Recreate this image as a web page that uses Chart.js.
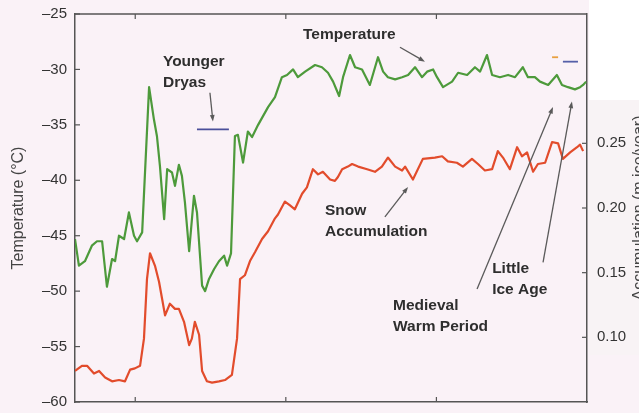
<!DOCTYPE html>
<html>
<head>
<meta charset="utf-8">
<script src="https://cdn.jsdelivr.net/npm/chart.js@4.4.1/dist/chart.umd.min.js"></script>
<style>
  html, body { margin: 0; padding: 0; background: #faf2f7; }
  canvas { display: block; }
</style>
</head>
<body>
<canvas id="myChart" width="639" height="413"></canvas>
<script>
// ages are thousands of years before present
var tempAge = [17.0, 16.87, 16.67, 16.44, 16.27, 16.10, 15.94, 15.77, 15.67, 15.54, 15.37, 15.21, 15.04, 14.94, 14.77,
  14.54, 14.38, 14.28, 14.18, 14.04, 13.94, 13.78, 13.68, 13.55, 13.45, 13.35, 13.21, 13.05, 12.95, 12.78, 12.68, 12.55,
  12.38, 12.22, 12.05, 11.95, 11.82, 11.69, 11.59, 11.42, 11.26, 11.12, 10.92, 10.59, 10.36, 10.13, 9.96, 9.76, 9.60,
  9.36, 9.03, 8.80, 8.60, 8.43, 8.23, 8.10, 7.87, 7.70, 7.47, 7.21, 6.94, 6.77, 6.61, 6.37, 6.14, 5.94, 5.71, 5.48, 5.31,
  5.11, 4.98, 4.78, 4.48, 4.28, 3.98, 3.72, 3.55, 3.32, 3.15, 2.89, 2.62, 2.39, 2.13, 1.96, 1.73, 1.56, 1.29, 1.00, 0.83,
  0.63, 0.40, 0.23, 0.13, 0.03];
var tempValues = [-45.3, -47.7, -47.3, -45.9, -45.5, -45.5, -49.6, -47.1, -47.3, -45.0, -45.3, -42.9, -45.0, -45.5, -44.7,
  -31.6, -34.5, -36.0, -38.7, -43.5, -39.0, -39.3, -40.5, -38.6, -39.6, -42.0, -46.4, -41.4, -42.9, -49.5, -50.0, -48.9,
  -48.0, -47.3, -46.8, -47.7, -46.6, -36.0, -35.9, -38.4, -35.6, -36.1, -35.0, -33.4, -32.5, -30.7, -30.5, -30.0, -30.7,
  -30.2, -29.6, -29.8, -30.3, -31.1, -32.4, -30.7, -28.7, -29.8, -30.0, -31.4, -28.9, -30.2, -30.7, -30.9, -30.7, -30.5,
  -29.8, -30.7, -30.2, -30.0, -30.7, -31.6, -31.1, -30.3, -30.5, -29.8, -30.2, -28.7, -30.5, -30.7, -30.5, -30.7, -29.8,
  -30.7, -30.7, -31.1, -31.4, -30.5, -31.4, -31.6, -31.8, -31.6, -31.4, -31.1];

var accumAge = [17.0, 16.77, 16.60, 16.37, 16.20, 16.00, 15.77, 15.54, 15.34, 15.17, 15.01, 14.84, 14.71, 14.61, 14.51,
  14.34, 14.21, 14.11, 14.01, 13.85, 13.68, 13.55, 13.38, 13.21, 13.12, 13.02, 12.88, 12.78, 12.62, 12.45, 12.22, 12.02,
  11.79, 11.62, 11.52, 11.36, 11.19, 11.02, 10.79, 10.59, 10.36, 10.26, 10.03, 9.86, 9.70, 9.46, 9.30, 9.10, 8.93, 8.77,
  8.53, 8.37, 8.27, 8.13, 7.94, 7.80, 7.60, 7.30, 7.04, 6.81, 6.61, 6.37, 6.14, 6.04, 5.78, 5.45, 5.05, 4.81, 4.62, 4.32,
  4.12, 3.82, 3.62, 3.39, 3.15, 2.96, 2.79, 2.56, 2.32, 2.16, 1.99, 1.79, 1.63, 1.39, 1.16, 0.96, 0.80, 0.56, 0.33, 0.23,
  0.13];
var accumValues = [0.074, 0.078, 0.078, 0.072, 0.074, 0.069, 0.066, 0.067, 0.066, 0.075, 0.076, 0.078, 0.099, 0.145, 0.165,
  0.155, 0.143, 0.130, 0.117, 0.126, 0.122, 0.122, 0.112, 0.094, 0.099, 0.112, 0.102, 0.074, 0.066, 0.065, 0.066, 0.067,
  0.071, 0.099, 0.145, 0.148, 0.159, 0.166, 0.176, 0.182, 0.192, 0.195, 0.205, 0.202, 0.199, 0.211, 0.216, 0.230, 0.226,
  0.228, 0.222, 0.221, 0.224, 0.230, 0.232, 0.234, 0.232, 0.230, 0.228, 0.232, 0.239, 0.232, 0.229, 0.232, 0.222, 0.238,
  0.239, 0.240, 0.236, 0.235, 0.232, 0.238, 0.234, 0.229, 0.230, 0.244, 0.239, 0.230, 0.247, 0.240, 0.243, 0.228, 0.234,
  0.235, 0.251, 0.250, 0.238, 0.243, 0.247, 0.249, 0.244];

// small bars: Younger Dryas level and the two marks at the top right
var dryasAge = [12.95, 11.89];
var dryasTemp = [-35.4, -35.4];
var orangeMarkAge = [1.16, 0.96];
var orangeMarkTemp = [-28.9, -28.9];
var blueMarkAge = [0.80, 0.30];
var blueMarkTemp = [-29.3, -29.3];

var ageTicks = [15, 10, 5];
var accumTicks = [0.10, 0.15, 0.20, 0.25];

// annotations (age, temperature of first text line)
var noteLines = [['Younger', 'Dryas'], ['Temperature'], ['Snow', 'Accumulation'], ['Medieval', 'Warm Period'], ['Little', 'Ice Age']];
var noteAge = [14.08, 9.43, 8.70, 6.44, 3.15];
var noteTemp = [-29.7, -27.3, -43.1, -51.7, -48.4];
var arrowFromAge = [12.52, 6.21, 6.71, 3.65, 1.46];
var arrowFromTemp = [-32.1, -28.0, -43.3, -49.8, -47.4];
var arrowToAge = [12.42, 5.38, 5.94, 1.13, 0.50];
var arrowToTemp = [-34.7, -29.3, -40.6, -33.4, -32.9];

function pts(xs, ys) {
  return xs.map(function (x, i) { return { x: x, y: ys[i] }; });
}

function arrow(ctx, x1, y1, x2, y2) {
  var ang = Math.atan2(y2 - y1, x2 - x1);
  ctx.beginPath();
  ctx.moveTo(x1, y1);
  ctx.lineTo(x2 - 4 * Math.cos(ang), y2 - 4 * Math.sin(ang));
  ctx.stroke();
  ctx.beginPath();
  ctx.moveTo(x2, y2);
  ctx.lineTo(x2 - 7 * Math.cos(ang - 0.35), y2 - 7 * Math.sin(ang - 0.35));
  ctx.lineTo(x2 - 7 * Math.cos(ang + 0.35), y2 - 7 * Math.sin(ang + 0.35));
  ctx.closePath();
  ctx.fill();
}

var figurePlugin = {
  id: 'figure',
  beforeDraw: function (chart) {
    var ctx = chart.ctx, a = chart.chartArea;
    ctx.save();
    ctx.fillStyle = '#faf2f7';
    ctx.fillRect(0, 0, chart.width, chart.height);
    ctx.fillStyle = '#ffffff';
    ctx.fillRect(a.right + 2, 0, chart.width - a.right, 100);
    ctx.fillStyle = '#f8f3f5';
    ctx.fillRect(a.right + 2, 100, chart.width - a.right, 255);
    ctx.restore();
  },
  afterDraw: function (chart) {
    var ctx = chart.ctx, a = chart.chartArea;
    var sx = chart.scales.x, sy = chart.scales.y, sa = chart.scales.y1;
    ctx.save();
    ctx.strokeStyle = '#555';
    ctx.lineWidth = 1.5;
    ctx.beginPath();
    ctx.moveTo(a.left, a.top);
    ctx.lineTo(a.right, a.top);
    ctx.stroke();

    ctx.lineWidth = 1.2;
    ageTicks.forEach(function (v) {
      var px = sx.getPixelForValue(v);
      ctx.beginPath();
      ctx.moveTo(px, a.top); ctx.lineTo(px, a.top + 5);
      ctx.moveTo(px, a.bottom); ctx.lineTo(px, a.bottom - 5);
      ctx.stroke();
    });
    sy.ticks.forEach(function (t) {
      var py = sy.getPixelForValue(t.value);
      ctx.beginPath();
      ctx.moveTo(a.left, py); ctx.lineTo(a.left + 5, py);
      ctx.stroke();
    });
    accumTicks.forEach(function (v) {
      var py = sa.getPixelForValue(v);
      ctx.beginPath();
      ctx.moveTo(a.right, py); ctx.lineTo(a.right - 5, py);
      ctx.stroke();
    });

    // right axis title, reading bottom to top
    ctx.fillStyle = '#444';
    ctx.font = '16px "Liberation Sans", Arial, sans-serif';
    ctx.textAlign = 'center';
    ctx.textBaseline = 'alphabetic';
    ctx.translate(644, (a.top + a.bottom) / 2);
    ctx.rotate(-Math.PI / 2);
    ctx.fillText('Accumulation (m ice/year)', 0, 0);
    ctx.setTransform(1, 0, 0, 1, 0, 0);

    // annotations
    ctx.fillStyle = '#2e2e2e';
    ctx.font = 'bold 15.5px "Liberation Sans", Arial, sans-serif';
    ctx.textAlign = 'left';
    noteLines.forEach(function (lines, i) {
      var px = sx.getPixelForValue(noteAge[i]);
      var py = sy.getPixelForValue(noteTemp[i]);
      lines.forEach(function (s, j) { ctx.fillText(s, px, py + j * 21); });
    });
    ctx.strokeStyle = '#5a5a5a';
    ctx.fillStyle = '#5a5a5a';
    ctx.lineWidth = 1.3;
    arrowFromAge.forEach(function (v, i) {
      arrow(ctx, sx.getPixelForValue(v), sy.getPixelForValue(arrowFromTemp[i]),
        sx.getPixelForValue(arrowToAge[i]), sy.getPixelForValue(arrowToTemp[i]));
    });
    ctx.restore();
  }
};

var tickFont = { family: '"Liberation Sans", Arial, sans-serif', size: 15 };

new Chart('myChart', {
  type: 'line',
  data: {
    datasets: [
      {
        label: 'Temperature',
        data: pts(tempAge, tempValues),
        borderColor: '#4d9a3b',
        borderWidth: 2.2,
        yAxisID: 'y'
      },
      {
        label: 'Snow Accumulation',
        data: pts(accumAge, accumValues),
        borderColor: '#e24c2c',
        borderWidth: 2.2,
        yAxisID: 'y1'
      },
      {
        label: 'Younger Dryas',
        data: pts(dryasAge, dryasTemp),
        borderColor: '#4a4f9a',
        borderWidth: 1.8,
        yAxisID: 'y'
      },
      {
        label: 'mark1',
        data: pts(orangeMarkAge, orangeMarkTemp),
        borderColor: '#e8a040',
        borderWidth: 1.8,
        yAxisID: 'y'
      },
      {
        label: 'mark2',
        data: pts(blueMarkAge, blueMarkTemp),
        borderColor: '#5560a8',
        borderWidth: 1.8,
        yAxisID: 'y'
      }
    ]
  },
  options: {
    responsive: false,
    devicePixelRatio: 1,
    animation: false,
    layout: { padding: { top: 14 } },
    elements: { point: { radius: 0 }, line: { tension: 0, borderJoinStyle: 'round' } },
    plugins: { legend: { display: false }, tooltip: { enabled: false } },
    scales: {
      x: {
        type: 'linear',
        min: 0,
        max: 17,
        reverse: true,
        grid: { display: false },
        border: { display: true, color: '#555', width: 1.5 },
        ticks: { display: false },
        afterBuildTicks: function (s) { s.ticks = ageTicks.map(function (v) { return { value: v }; }); },
        afterFit: function (s) { s.height = 7; }
      },
      y: {
        position: 'left',
        min: -60,
        max: -25,
        grid: { display: false },
        border: { display: true, color: '#555', width: 1.5 },
        ticks: {
          stepSize: 5,
          padding: 0,
          color: '#333',
          font: tickFont,
          callback: function (v) { return v < 0 ? '\u2013' + Math.abs(v) : v; }
        },
        title: {
          display: true,
          text: 'Temperature (\u00b0C)',
          color: '#444',
          font: { family: '"Liberation Sans", Arial, sans-serif', size: 16 },
          padding: { top: 9, bottom: 0 }
        },
        afterFit: function (s) { s.width = 75; }
      },
      y1: {
        position: 'right',
        min: 0.05,
        max: 0.35,
        grid: { display: false },
        border: { display: true, color: '#555', width: 1.5 },
        ticks: {
          padding: 2,
          color: '#333',
          font: tickFont,
          callback: function (v) { return v.toFixed(2); }
        },
        afterBuildTicks: function (s) { s.ticks = accumTicks.map(function (v) { return { value: v }; }); },
        afterFit: function (s) { s.width = 52; }
      }
    }
  },
  plugins: [figurePlugin]
});
</script>
</body>
</html>
